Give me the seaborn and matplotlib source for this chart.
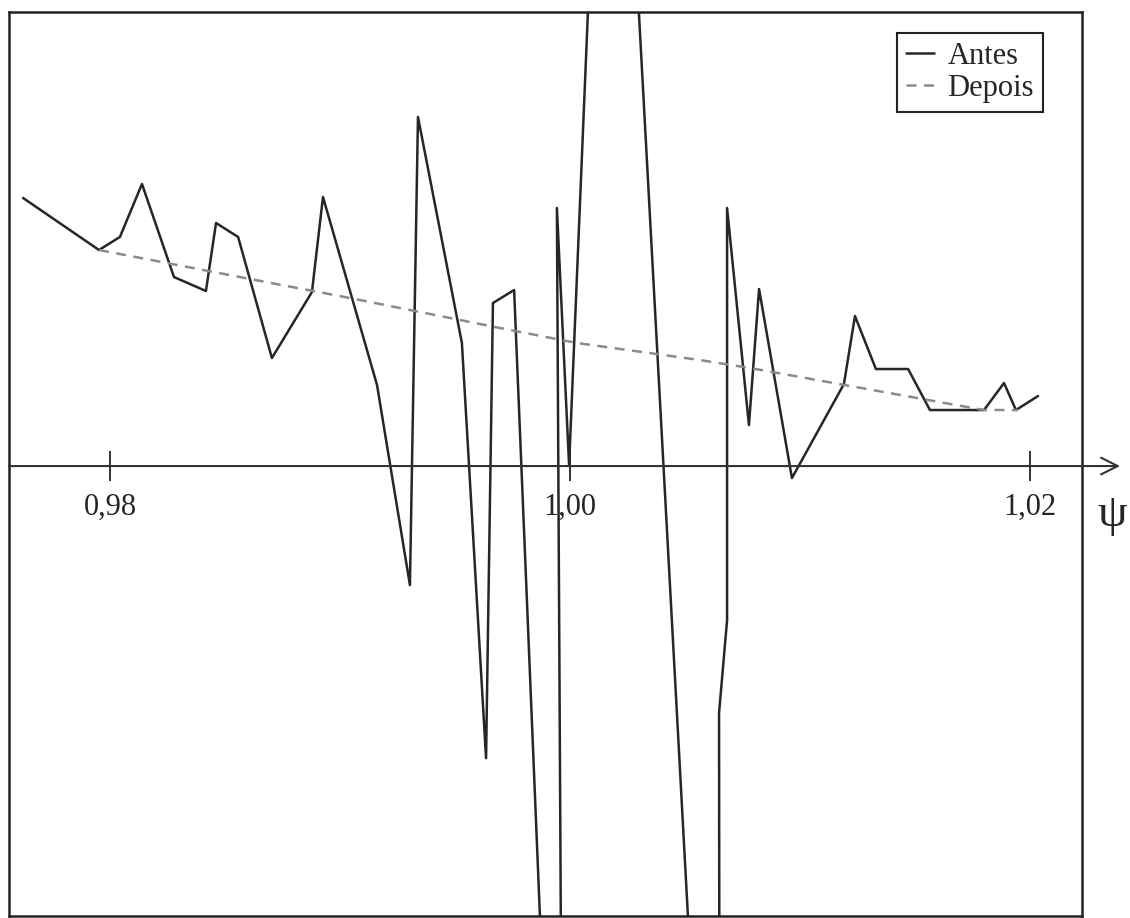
import numpy as np
import pandas as pd
import matplotlib.pyplot as plt
import seaborn as sns

# psi values and curve ordinates (arbitrary y units)
psi_antes = [0.97622, 0.97952, 0.98043, 0.98139, 0.98278, 0.98417, 0.98461, 0.98557,
             0.98704, 0.98878, 0.98926, 0.99161, 0.99304, 0.99339, 0.99530, 0.99635,
             0.99665, 0.99757, 0.99974, 0.99943, 0.99996, 1.00174, 1.00652, 1.00648,
             1.00683, 1.00683, 1.00778, 1.00822, 1.00965, 1.01191, 1.01239, 1.01330,
             1.01470, 1.01565, 1.01800, 1.01887, 1.01939, 1.02035]
val_antes = [2.68, 2.16, 2.29, 2.82, 1.89, 1.75, 2.43, 2.29,
             1.08, 1.74, 2.69, 0.81, -1.19, 3.49, 1.23, -2.92,
             1.63, 1.76, -10.34, 2.58, 0.01, 9.85, -10.40, -2.47,
             -1.54, 2.58, 0.41, 1.77, -0.12, 0.82, 1.50, 0.97,
             0.97, 0.56, 0.56, 0.83, 0.56, 0.70]

psi_depois = [0.97952, 0.98609, 0.99043, 0.99696, 1.00030, 1.00565, 1.00783, 1.01800, 1.01948]
val_depois = [2.16, 1.87, 1.68, 1.38, 1.23, 1.06, 0.98, 0.56, 0.56]

series_names = ["Antes", "Depois"]
tick_pos = [0.98, 1.00, 1.02]
tick_labels = ["0,98", "1,00", "1,02"]
x_label = "ψ"

df = pd.concat([
    pd.DataFrame({"psi": psi_antes, "valor": val_antes, "serie": series_names[0]}),
    pd.DataFrame({"psi": psi_depois, "valor": val_depois, "serie": series_names[1]}),
], ignore_index=True)

sns.set_style("white")
plt.rcParams['font.family'] = ['Liberation Serif', 'DejaVu Serif']

fig = plt.figure(figsize=(11.3, 9.18), dpi=100)
ax = fig.add_axes([0.008, 0.002, 0.9495, 0.985])

sns.lineplot(data=df, x="psi", y="valor", hue="serie", style="serie",
             palette={"Antes": "#262626", "Depois": "#8a8a8a"},
             dashes={"Antes": "", "Depois": (4, 3)},
             sort=False, estimator=None, linewidth=1.8, ax=ax)

ax.set_xlim(0.97561, 1.02226)
ax.set_ylim(-4.50, 4.54)
ax.set_xticks([])
ax.set_yticks([])
ax.set_xlabel("")
ax.set_ylabel("")
for s in ax.spines.values():
    s.set_visible(True)
    s.set_color("#222222")
    s.set_linewidth(1.8)

# horizontal psi axis through zero, with arrow past the frame
ax.annotate("", xy=(1.0355, 0), xycoords=ax.get_yaxis_transform(),
            xytext=(0.0, 0), textcoords=ax.get_yaxis_transform(),
            arrowprops=dict(arrowstyle="->", lw=1.5, color="#333333",
                            mutation_scale=30, shrinkA=0, shrinkB=0),
            annotation_clip=False)

sec = ax.secondary_xaxis(0, transform=ax.transData)
sec.spines["bottom"].set_visible(False)
sec.set_xticks(tick_pos)
sec.set_xticklabels(tick_labels)
sec.tick_params(direction="inout", length=21, width=1.4, color="#333333",
                labelsize=22, pad=9)

ax.text(1.028, 0.444, x_label, transform=ax.transAxes, fontsize=34,
        ha="center", va="center", clip_on=False)

handles, labels = ax.get_legend_handles_labels()
leg = ax.legend(handles, labels, loc="upper right", bbox_to_anchor=(0.9637, 0.9768),
                fancybox=False, edgecolor="#222222", framealpha=1, fontsize=22,
                handlelength=0.9, handletextpad=0.45, labelspacing=0.08,
                borderpad=0.3, borderaxespad=0)
leg.get_frame().set_linewidth(1.5)

plt.savefig("out.png", dpi=100)
plt.close()
